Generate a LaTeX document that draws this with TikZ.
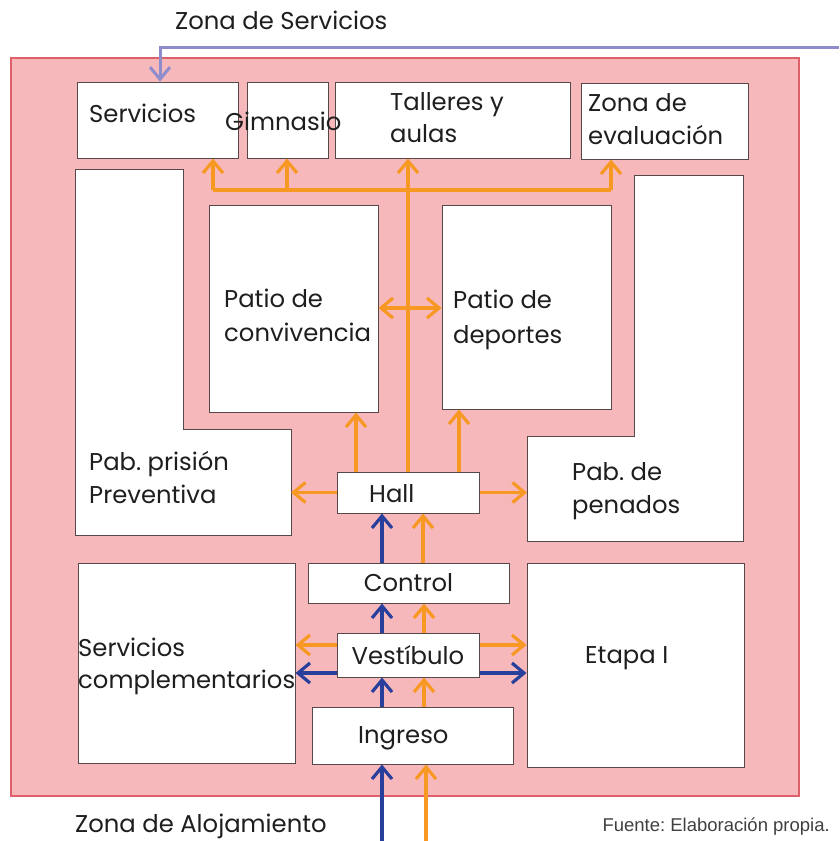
\documentclass[tikz,border=0pt]{standalone}
\usepackage{fontspec}
\setmainfont{Poppins}
\newfontfamily\fuentefont{Liberation Sans}
\usetikzlibrary{arrows.meta}
\definecolor{pinkfill}{RGB}{247,184,188}
\definecolor{pinkedge}{RGB}{222,96,106}
\definecolor{orangeA}{RGB}{246,152,34}
\definecolor{blueA}{RGB}{40,64,155}
\definecolor{purpleA}{RGB}{142,140,202}
\definecolor{boxedge}{RGB}{85,72,72}
\definecolor{txt}{RGB}{30,30,30}
\tikzset{
  box/.style={draw=boxedge, fill=white, line width=1pt, inner sep=0pt, text=txt},
  lbl/.style={anchor=base west, inner sep=0pt, text=txt},
  tip/.style={-{Straight Barb[length=12pt,width=20pt]}},
  oarr/.style={draw=orangeA, line width=3.2pt, tip},
  barr/.style={draw=blueA, line width=3.2pt, tip},
  oline/.style={draw=orangeA, line width=3.2pt},
}
\frenchspacing
\begin{document}
\begin{tikzpicture}[x=1pt,y=-1pt, font=\fontsize{24.3}{29}\selectfont]
\useasboundingbox (0,0) rectangle (839,841);
% outer zone
\draw[fill=pinkfill, draw=pinkedge, line width=1.5pt] (11,58) rectangle (799,796);

% top boxes
\node[box, minimum width=161pt, minimum height=76pt] (serv) at (157.5,120) {};
\node[box, minimum width=81pt, minimum height=76pt] (gim) at (287.5,120) {};
\node[box, minimum width=235pt, minimum height=76pt] (tall) at (452.5,120) {};
\node[box, minimum width=167pt, minimum height=76pt] (eval) at (664.5,121) {};
% patios
\node[box, minimum width=169pt, minimum height=207pt] (conv) at (293.5,308.5) {};
\node[box, minimum width=169pt, minimum height=204pt] (dep) at (526.5,307) {};
% L-shaped pavilions
\draw[box] (75,169) -- (183,169) -- (183,429) -- (291,429) -- (291,535) -- (75,535) -- cycle;
\draw[box] (634,175) -- (743,175) -- (743,541) -- (527,541) -- (527,436) -- (634,436) -- cycle;
\coordinate (prevE) at (291,492.5);
\coordinate (penW) at (527,492.5);
% central spine
\node[box, minimum width=142pt, minimum height=41pt] (hall) at (408,492.5) {};
\node[box, minimum width=201pt, minimum height=40pt] (control) at (408.5,583) {Control};
\node[box, minimum width=142pt, minimum height=44pt] (vest) at (408,655) {Vestíbulo};
\node[box, minimum width=201pt, minimum height=57pt] (ingreso) at (412.5,735.5) {};
\node[lbl] at (358,743) {Ingreso};
\node[box, minimum width=217pt, minimum height=200pt] (scomp) at (186.5,663) {};
\node[box, minimum width=217pt, minimum height=204pt] (etapa) at (635.5,665) {};

% labels
\node[lbl] at (175,29) {Zona de Servicios};
\node[lbl] at (89,122) {Servicios};
\node[lbl] at (225,130) {Gimnasio};
\node[lbl] at (390,110) {Talleres y};
\node[lbl] at (390,142) {aulas};
\node[lbl] at (588,111) {Zona de};
\node[lbl] at (588,144) {evaluación};
\node[lbl] at (224,307) {Patio de};
\node[lbl] at (224,341) {convivencia};
\node[lbl] at (453,308) {Patio de};
\node[lbl] at (453,343) {deportes};
\node[lbl] at (89,470) {Pab. prisión};
\node[lbl] at (89,503) {Preventiva};
\node[lbl] at (572,480) {Pab. de};
\node[lbl] at (572,513) {penados};
\node[lbl] at (369,502) {Hall};
\node[lbl] at (78,656) {Servicios};
\node[lbl] at (78,688) {complementarios};
\node[lbl] at (585,663) {Etapa I};
\node[lbl] at (75,832) {Zona de Alojamiento};
\node[anchor=base east, inner sep=0pt, text=txt!85, font=\fuentefont\fontsize{18.5}{22}\selectfont] at (830,831) {Fuente: Elaboración propia.};

% purple service line
\coordinate (srvin) at (839,47);
\draw[draw=purpleA, line width=3pt, tip] (srvin) -- (160,47) -- (serv.north -| 160,0);

% orange distribution bus
\draw[oline] (213,190) -- (611,190);
\draw[oarr] (213,190) -- (serv.south -| 213,0);
\draw[oarr] (287,190) -- (gim.south -| 287,0);
\draw[oarr] (611,190) -- (eval.south -| 611,0);
\draw[oarr] (hall.north) -- (tall.south -| hall.north);
\draw[oarr, {Straight Barb[length=12pt,width=20pt]}-{Straight Barb[length=12pt,width=20pt]}] (conv.east |- 0,308) -- (dep.west |- 0,308);
\draw[oarr] (hall.north -| 356,0) -- (conv.south -| 356,0);
\draw[oarr] (hall.north -| 459,0) -- (dep.south -| 459,0);
\draw[oarr] (hall.west) -- (prevE);
\draw[oarr] (hall.east) -- (penW);
% control -> hall
\draw[barr] (control.north -| 382,0) -- (hall.south -| 382,0);
\draw[oarr] (control.north -| 423,0) -- (hall.south -| 423,0);
% vestibulo -> control
\draw[barr] (vest.north -| 382,0) -- (control.south -| 382,0);
\draw[oarr] (vest.north -| 424,0) -- (control.south -| 424,0);
% vestibulo sides
\draw[oarr] (vest.west |- 0,645) -- (scomp.east |- 0,645);
\draw[oarr] (vest.east |- 0,645) -- (etapa.west |- 0,645);
\draw[barr] (vest.west |- 0,673) -- (scomp.east |- 0,673);
\draw[barr] (vest.east |- 0,673) -- (etapa.west |- 0,673);
% ingreso -> vestibulo
\draw[barr] (ingreso.north -| 382,0) -- (vest.south -| 382,0);
\draw[oarr] (ingreso.north -| 424,0) -- (vest.south -| 424,0);
% entries from outside
\coordinate (inB) at (382,841);
\coordinate (inO) at (426,841);
\draw[barr] (inB) -- (ingreso.south -| inB);
\draw[oarr] (inO) -- (ingreso.south -| inO);
\end{tikzpicture}
\end{document}
